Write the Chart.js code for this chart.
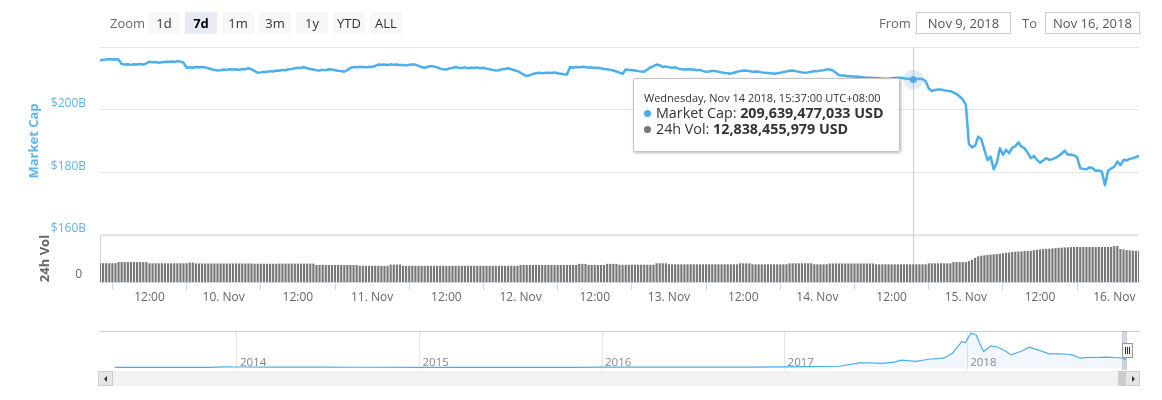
<!DOCTYPE html>
<html>
<head>
<meta charset="utf-8">
<script src="https://cdn.jsdelivr.net/npm/chart.js@4.4.1/dist/chart.umd.min.js"></script>
<style>
html,body{margin:0;padding:0;background:#fff;}
#wrap{position:relative;width:1162px;height:400px;overflow:hidden;font-family:'Open Sans',sans-serif;}
canvas{position:absolute;left:0;}
#main{top:0;}
#nav{top:320px;}
.abs{position:absolute;}
.zlabel{left:110px;top:12px;height:22px;line-height:22px;font-size:13px;color:#666;}
.btn{position:absolute;top:12px;width:32px;height:22px;line-height:22px;background:#f7f7f7;text-align:center;font-size:13px;color:#333;}
.btn.sel{background:#e6ebf5;font-weight:bold;color:#000;}
.dlabel{top:12px;height:22px;line-height:22px;font-size:13px;color:#666;}
.dbox{top:12px;height:22px;line-height:20px;box-sizing:border-box;border:1px solid #cccccc;font-size:13px;color:#555;text-align:center;}
#tip{position:absolute;box-sizing:border-box;width:267px;height:74px;background:rgba(255,255,255,0.88);border:1px solid #c4c4c4;border-radius:2px;box-shadow:1px 1px 3px rgba(0,0,0,0.28);padding:12px 10px 0 10px;color:#333;}
#tip .tt{font-size:11px;line-height:14px;white-space:nowrap;}
#tip .tl{font-size:14.3px;line-height:16px;white-space:nowrap;}
#tip .dot{display:inline-block;width:7px;height:7px;border-radius:50%;margin-right:5px;vertical-align:1px;}
.sbtn{position:absolute;top:371px;width:15px;height:15px;box-sizing:border-box;background:#e6e6e6;border:1px solid #cccccc;}
.tri{position:absolute;top:4px;width:0;height:0;border-top:3px solid transparent;border-bottom:3px solid transparent;}
</style>
</head>
<body>
<div id="wrap">
  <canvas id="main" width="1162" height="320"></canvas>
  <canvas id="nav" width="1162" height="60"></canvas>

  <div class="abs zlabel">Zoom</div>
  <div id="btns"></div>
  <div class="abs dlabel" style="left:879px;">From</div>
  <div class="abs dbox" style="left:916px;width:95px;">Nov 9, 2018</div>
  <div class="abs dlabel" style="left:1022px;">To</div>
  <div class="abs dbox" style="left:1045px;width:95px;">Nov 16, 2018</div>

  <!-- navigator chrome -->
  <div class="abs" style="left:99px;top:331px;width:1041px;height:1px;background:#cccccc;"></div>
  <div class="abs" style="left:1122px;top:331px;width:4px;height:39px;background:rgba(102,133,194,0.3);"></div>
  <div class="abs" style="left:1122px;top:331px;width:1px;height:39px;background:#cccccc;"></div>
  <div class="abs" style="left:1126px;top:331px;width:1px;height:39px;background:#cccccc;"></div>
  <div class="abs" style="left:1122px;top:343px;width:11px;height:15px;box-sizing:border-box;background:#f2f2f2;border:1px solid #999;"></div>
  <div class="abs" style="left:1125px;top:347px;width:1px;height:7px;background:#333;"></div>
  <div class="abs" style="left:1127px;top:347px;width:1px;height:7px;background:#333;"></div>
  <div class="abs" style="left:1129px;top:347px;width:1px;height:7px;background:#333;"></div>

  <!-- scrollbar -->
  <div class="abs" style="left:113px;top:371px;width:1012px;height:15px;background:#f2f2f2;"></div>
  <div class="abs" style="left:1118px;top:371px;width:7px;height:15px;background:#cccccc;"></div>
  <div class="sbtn" style="left:98px;"><div class="tri" style="left:5px;border-right:3px solid #333;"></div></div>
  <div class="sbtn" style="left:1125px;"><div class="tri" style="left:6px;border-left:3px solid #333;"></div></div>

  <div id="tip"></div>
</div>

<script>
// ---------- DATA ----------
// 30-minute samples, hours relative to 10 Nov 2018 00:00 (UTC+8)
const startHour = -20;
const stepHours = 0.5;

// Market cap in billions USD
const capValues = [
  215.7,215.9,216.0,216.2,216.0,216.1,216.0,214.6,214.4,214.5,
  214.3,214.5,214.4,214.6,214.4,214.8,215.3,215.1,215.2,215.0,
  215.1,215.3,215.2,215.4,215.2,215.5,215.3,215.0,213.4,213.5,
  213.4,213.6,213.5,213.6,213.5,213.2,212.9,212.7,212.5,212.6,
  212.8,212.7,212.9,212.8,212.9,212.7,213.0,212.9,213.2,212.9,
  212.3,211.8,211.9,212.1,212.0,212.3,212.2,212.5,212.4,212.7,
  212.6,212.9,213.0,213.2,213.4,213.3,213.6,213.2,213.0,212.8,
  212.6,212.5,212.7,212.6,212.9,212.8,212.6,212.4,212.3,212.1,
  212.6,213.4,213.6,213.5,213.7,213.6,213.5,213.7,213.6,214.0,
  214.4,214.3,214.4,214.2,214.5,214.3,214.4,214.2,214.3,214.1,
  214.3,214.4,214.4,214.0,213.6,213.4,213.7,213.9,213.8,213.5,
  213.1,212.9,212.8,213.2,213.3,213.6,213.4,213.3,213.5,213.2,
  213.4,213.3,213.5,213.2,213.4,213.1,212.9,212.7,212.5,212.6,
  212.9,213.0,213.2,212.9,212.6,212.3,211.8,211.2,210.7,211.0,
  211.4,211.6,211.8,211.6,211.8,211.8,211.7,211.9,211.6,211.5,
  211.3,211.2,213.6,213.4,213.6,213.5,213.7,213.6,213.4,213.5,
  213.3,213.4,213.2,213.0,212.9,212.7,212.5,212.2,211.8,211.4,
  212.8,212.7,212.6,212.5,212.3,212.2,212.1,212.8,213.5,213.9,
  214.4,214.2,213.6,213.8,213.5,213.4,213.5,213.1,212.9,212.8,
  212.9,212.8,212.8,212.6,212.7,212.3,212.1,212.2,212.4,212.3,
  212.1,211.9,211.7,211.6,211.5,211.8,212.1,212.3,212.5,212.4,
  212.3,212.1,212.2,212.1,211.9,211.8,211.7,211.6,211.5,211.6,
  211.8,212.0,212.2,212.4,212.5,212.3,212.1,211.9,211.8,211.9,
  212.1,212.3,212.3,212.5,212.6,212.8,212.8,212.5,211.8,211.0,
  210.9,210.8,210.7,210.7,210.6,210.5,210.4,210.3,210.2,210.2,
  210.1,210.1,210.0,209.9,209.9,209.9,210.0,210.1,210.2,210.2,
  210.0,209.9,209.8,209.64,209.8,209.9,209.8,209.1,206.8,205.9,
  206.3,206.4,206.4,206.2,206.0,205.9,205.5,205.0,204.2,203.3,
  201.6,189.0,188.0,188.5,191.4,190.6,187.2,183.9,185.0,181.0,
  182.9,187.7,185.6,187.2,186.1,187.8,188.3,189.6,188.2,187.7,
  186.2,184.5,185.2,184.0,183.1,183.8,184.5,184.0,184.2,184.6,
  185.2,186.0,186.9,185.6,185.7,185.4,184.8,181.3,181.1,181.0,
  181.6,181.3,180.5,180.6,180.2,175.9,180.5,181.2,181.8,183.4,
  182.3,184.0,183.8,184.3,184.5,184.9,185.2
];

// 24h volume in billions USD
const volValues = [
  13.6,13.6,13.6,13.6,13.6,13.6,14.4,14.4,14.4,14.4,
  14.4,14.4,14.4,14.4,14.4,14.4,13.5,13.5,13.5,13.5,
  13.5,13.5,13.5,13.5,13.5,13.5,13.5,13.5,13.5,14.1,
  14.1,13.4,13.4,13.4,13.4,13.4,13.4,13.4,13.4,13.4,
  13.4,13.4,13.4,13.4,13.4,13.4,13.4,13.4,13.4,13.4,
  13.2,13.2,13.2,13.2,13.2,13.2,13.2,13.2,13.3,13.3,
  13.3,13.3,13.3,13.3,13.3,13.3,13.3,13.3,13.3,13.3,
  12.3,12.3,12.3,12.3,12.3,12.3,12.3,12.3,12.3,12.3,
  12.3,12.3,12.3,12.3,11.7,11.7,11.7,11.7,11.7,11.7,
  11.7,11.7,11.7,11.7,12.6,12.6,12.6,12.6,11.7,11.7,
  11.7,11.7,11.7,11.7,11.7,11.7,11.7,11.7,11.7,11.7,
  11.7,11.7,11.7,11.7,11.7,11.7,11.7,11.7,11.7,11.7,
  11.7,11.7,11.7,11.7,11.7,11.7,11.7,11.7,11.7,11.7,
  11.7,11.7,11.7,11.7,11.7,11.7,12.3,12.3,12.3,12.3,
  12.3,12.3,12.3,12.3,12.3,12.3,12.3,12.3,12.3,12.3,
  12.3,12.3,12.3,12.3,12.3,13.1,13.1,13.1,12.3,12.3,
  12.3,12.3,12.3,12.3,13.1,13.1,13.1,13.1,12.5,12.5,
  12.5,12.5,12.5,12.5,12.5,12.5,12.5,12.5,12.5,12.5,
  13.5,13.5,13.5,13.5,12.8,12.8,12.8,12.8,12.8,12.8,
  12.8,12.8,12.8,12.8,12.8,12.8,12.8,12.8,12.8,12.8,
  12.8,12.8,12.8,12.8,12.8,12.8,12.8,13.5,13.5,13.5,
  13.5,12.8,12.8,12.8,12.8,12.8,12.8,12.8,12.8,12.8,
  12.8,12.8,12.8,13.5,13.5,13.5,13.5,13.5,13.5,13.5,
  13.5,12.8,12.8,12.8,12.8,12.8,13.4,13.4,13.4,13.4,
  13.4,13.4,13.4,13.4,13.4,13.4,13.4,13.4,13.4,13.4,
  13.4,12.8,12.8,12.8,12.8,12.8,12.8,12.8,12.8,12.8,
  12.8,12.8,12.8,12.84,12.8,12.8,12.8,12.8,13.5,13.5,
  13.5,13.5,13.5,13.5,13.5,13.5,14.4,14.4,14.4,14.4,
  14.4,15.1,16.1,17.4,18.5,19.0,19.3,19.5,19.8,20.0,
  20.2,20.5,20.8,21.2,21.4,21.7,21.9,22.1,22.2,22.4,
  22.5,22.6,23.0,23.3,23.6,23.8,24.0,24.1,24.3,24.5,
  24.7,24.9,25.0,25.1,25.2,25.3,25.3,25.3,25.3,25.3,
  25.3,25.3,25.3,25.3,25.3,25.3,25.3,25.3,26.0,26.0,
  23.9,23.5,23.1,22.9,22.7,22.5,22.4
];

const xTickHours  = [-12, 0, 12, 24, 36, 48, 60, 72, 84, 96, 108, 120, 132, 144];
const xTickLabels = ['12:00','10. Nov','12:00','11. Nov','12:00','12. Nov','12:00','13. Nov','12:00','14. Nov','12:00','15. Nov','12:00','16. Nov'];
const capTicks      = [160, 180, 200, 220];
const capTickLabels = ['$160B', '$180B', '$200B', ''];
const volTicks      = [0];
const volTickLabels = ['0'];

const rangeButtons = ['1d', '7d', '1m', '3m', '1y', 'YTD', 'ALL'];
const selectedRange = '7d';

const hoverIndex = 263;
const hoverTitle = 'Wednesday, Nov 14 2018, 15:37:00 UTC+08:00';
const hoverCap = '209,639,477,033 USD';
const hoverVol = '12,838,455,979 USD';

// Navigator: whole history (decimal years, market cap in billions)
const navYears = [2013.33,2013.6,2013.85,2013.93,2014.0,2014.2,2014.45,2014.7,2015.0,2015.3,2015.6,2015.85,2016.0,2016.3,2016.5,2016.8,2017.0,2017.15,2017.3,2017.41,2017.47,2017.53,2017.6,2017.64,2017.72,2017.79,2017.87,2017.92,2017.97,2017.99,2018.02,2018.05,2018.07,2018.09,2018.13,2018.17,2018.21,2018.24,2018.30,2018.34,2018.40,2018.45,2018.50,2018.55,2018.58,2018.62,2018.66,2018.70,2018.76,2018.81,2018.85,2018.87];
const navCaps  = [1.5,1.2,5,14,12,8,8,6,4,3.5,4,5,6.5,7,10,11,17,20,30,110,115,100,130,180,150,200,226,346,628,600,830,790,572,387,524,492,400,306,400,492,411,330,330,322,300,226,245,242,250,242,226,190];
const navTickYears = [2014, 2015, 2016, 2017, 2018];

// ---------- STYLE ----------
const FONT = "'Open Sans', sans-serif";
const CAP_COLOR = '#4aafea';
const LABEL_BLUE = '#62b3e8';
const VOL_COLOR = '#777777';

// ---------- HTML chrome ----------
const btnWrap = document.getElementById('btns');
rangeButtons.forEach((b, i) => {
  const d = document.createElement('div');
  d.className = 'btn' + (b === selectedRange ? ' sel' : '');
  d.style.left = (148 + i * 37) + 'px';
  d.textContent = b;
  btnWrap.appendChild(d);
});

// ---------- MAIN CHART ----------
const capPoints = capValues.map((v, i) => ({x: startHour + i * stepHours, y: v}));
const volPoints = volValues.map((v, i) => ({x: startHour + i * stepHours, y: v}));

const crosshairPlugin = {
  id: 'crosshair',
  beforeDatasetsDraw(chart) {
    const el = chart.getDatasetMeta(0).data[hoverIndex];
    if (!el) return;
    const {ctx, chartArea} = chart;
    const x = Math.round(el.x) + 0.5;
    ctx.save();
    ctx.strokeStyle = '#cccccc';
    ctx.lineWidth = 1;
    ctx.beginPath();
    ctx.moveTo(x, chartArea.top);
    ctx.lineTo(x, chartArea.bottom);
    ctx.stroke();
    ctx.restore();
  }
};

const mainChart = new Chart(document.getElementById('main'), {
  type: 'line',
  data: {
    datasets: [
      {
        type: 'line', label: 'Market Cap', data: capPoints, yAxisID: 'y', xAxisID: 'x',
        borderColor: CAP_COLOR, borderWidth: 2.5, pointRadius: 0,
        pointHoverRadius: 3.5, pointHoverBorderWidth: 13,
        pointHoverBackgroundColor: CAP_COLOR, pointHoverBorderColor: 'rgba(124,181,236,0.25)',
        tension: 0, borderJoinStyle: 'round', fill: false
      },
      {
        type: 'bar', label: '24h Vol', data: volPoints, yAxisID: 'y2', xAxisID: 'x',
        backgroundColor: VOL_COLOR, hoverBackgroundColor: VOL_COLOR,
        barPercentage: 0.7, categoryPercentage: 1, borderWidth: 0
      }
    ]
  },
  options: {
    responsive: false, animation: false, events: [], devicePixelRatio: 1,
    layout: {padding: {top: 47, right: 23, left: 0, bottom: 0}},
    plugins: {legend: {display: false}, tooltip: {enabled: false}},
    scales: {
      x: {
        type: 'linear', min: startHour, max: startHour + (capValues.length - 1) * stepHours, offset: false,
        afterBuildTicks: s => { s.ticks = xTickHours.map(v => ({value: v})); },
        afterFit: s => { s.height = 38; },
        grid: {drawOnChartArea: false, drawTicks: true, tickLength: 8, color: '#ccd6eb'},
        border: {display: true, color: '#ccd6eb'},
        ticks: {autoSkip: false, maxRotation: 0, padding: 0, color: '#666666',
                font: {family: FONT, size: 12}, callback: (v, i) => xTickLabels[i]}
      },
      y: {
        type: 'linear', position: 'left', stack: 'panes', stackWeight: 4, weight: 2,
        min: capTicks[0], max: capTicks[capTicks.length - 1],
        afterBuildTicks: s => { s.ticks = capTicks.map(v => ({value: v})); },
        afterFit: s => { s.width = 100; },
        grid: {color: '#e6e6e6', drawTicks: false,
               lineWidth: c => (c.tick && c.tick.value === capTicks[0]) ? 2.5 : 1},
        border: {display: false},
        ticks: {padding: 14, labelOffset: -6, color: LABEL_BLUE,
                font: {family: FONT, size: 12}, callback: (v, i) => capTickLabels[i]},
        title: {display: true, text: 'Market Cap', color: LABEL_BLUE,
                font: {family: FONT, size: 13, weight: 'bold'}, padding: {top: 26, bottom: 0}}
      },
      y2: {
        type: 'linear', position: 'left', stack: 'panes', stackWeight: 1, weight: 1,
        min: 0, max: 34,
        afterBuildTicks: s => { s.ticks = volTicks.map(v => ({value: v})); },
        afterFit: s => { s.width = 100; },
        grid: {display: false, drawTicks: false},
        border: {display: true, color: '#ccd6eb'},
        ticks: {padding: 18, labelOffset: -7, color: '#666666',
                font: {family: FONT, size: 12}, callback: (v, i) => volTickLabels[i]},
        title: {display: true, text: '24h Vol', color: '#666666',
                font: {family: FONT, size: 13, weight: 'bold'}, padding: {top: 37, bottom: 0}}
      }
    }
  },
  plugins: [crosshairPlugin]
});

mainChart.setActiveElements([{datasetIndex: 0, index: hoverIndex}]);
mainChart.update();

// tooltip (HTML)
const hp = mainChart.getDatasetMeta(0).data[hoverIndex];
const tip = document.getElementById('tip');
tip.style.left = Math.round(hp.x - 280) + 'px';
tip.style.top = Math.round(hp.y - 1) + 'px';
tip.innerHTML =
  '<div class="tt">' + hoverTitle + '</div>' +
  '<div class="tl"><span class="dot" style="background:' + CAP_COLOR + '"></span>Market Cap: <b>' + hoverCap + '</b></div>' +
  '<div class="tl"><span class="dot" style="background:' + VOL_COLOR + '"></span>24h Vol: <b>' + hoverVol + '</b></div>';

// ---------- NAVIGATOR ----------
const navPoints = navYears.map((y, i) => ({x: y, y: navCaps[i]}));
new Chart(document.getElementById('nav'), {
  type: 'line',
  data: {datasets: [{
    data: navPoints, borderColor: '#4aafea', borderWidth: 1.2, pointRadius: 0, tension: 0,
    fill: 'origin', backgroundColor: 'rgba(124,181,236,0.10)'
  }]},
  options: {
    responsive: false, animation: false, events: [], devicePixelRatio: 1,
    layout: {padding: {top: 11, left: 114.6, right: 36, bottom: 0}},
    plugins: {legend: {display: false}, tooltip: {enabled: false}},
    scales: {
      x: {
        type: 'linear', min: navYears[0], max: navYears[navYears.length - 1],
        afterBuildTicks: s => { s.ticks = navTickYears.map(v => ({value: v})); },
        afterFit: s => { s.height = 10; },
        grid: {color: '#e6e6e6', drawTicks: false},
        border: {display: false},
        ticks: {mirror: true, align: 'start', labelOffset: 3, padding: 0, color: '#888888', autoSkip: false, maxRotation: 0,
                font: {family: FONT, size: 11.5}, callback: v => String(v)}
      },
      y: {display: false, min: -61, max: 886}
    }
  }
});
</script>
</body>
</html>
